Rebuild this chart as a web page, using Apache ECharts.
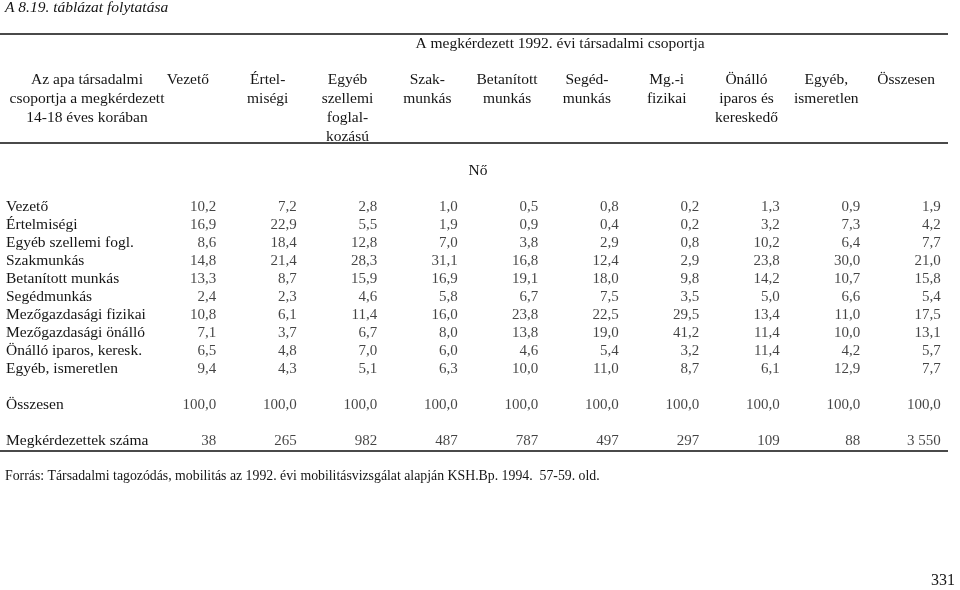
<!DOCTYPE html>
<html>
<head>
<meta charset="utf-8">
<script src="https://cdn.jsdelivr.net/npm/echarts@6/dist/echarts.min.js"></script>
<style>
  html, body { margin: 0; padding: 0; background: #fff; }
  #chart { width: 960px; height: 590px; }
</style>
</head>
<body>
<div id="chart"></div>
<script>
// column headers (the respondent's social group in 1992)
const columns = [
  'Vezető', 'Értel-\nmiségi', 'Egyéb\nszellemi\nfoglal-\nkozású', 'Szak-\nmunkás',
  'Betanított\nmunkás', 'Segéd-\nmunkás', 'Mg.-i\nfizikai', 'Önálló\niparos és\nkereskedő',
  'Egyéb,\nismeretlen', 'Összesen'
];

// row labels (father's group), blanks are spacer rows
const rows = [
  'Vezető', 'Értelmiségi', 'Egyéb szellemi fogl.', 'Szakmunkás', 'Betanított munkás',
  'Segédmunkás', 'Mezőgazdasági fizikai', 'Mezőgazdasági önálló', 'Önálló iparos, keresk.',
  'Egyéb, ismeretlen', '', 'Összesen', '', 'Megkérdezettek száma'
];

const rowVezeto      = [10.2,  7.2,  2.8,  1.0,  0.5,  0.8,  0.2,  1.3,  0.9,  1.9];
const rowErtelmiseg  = [16.9, 22.9,  5.5,  1.9,  0.9,  0.4,  0.2,  3.2,  7.3,  4.2];
const rowEgyebSzell  = [ 8.6, 18.4, 12.8,  7.0,  3.8,  2.9,  0.8, 10.2,  6.4,  7.7];
const rowSzakmunkas  = [14.8, 21.4, 28.3, 31.1, 16.8, 12.4,  2.9, 23.8, 30.0, 21.0];
const rowBetanitott  = [13.3,  8.7, 15.9, 16.9, 19.1, 18.0,  9.8, 14.2, 10.7, 15.8];
const rowSegedmunkas = [ 2.4,  2.3,  4.6,  5.8,  6.7,  7.5,  3.5,  5.0,  6.6,  5.4];
const rowMgFizikai   = [10.8,  6.1, 11.4, 16.0, 23.8, 22.5, 29.5, 13.4, 11.0, 17.5];
const rowMgOnallo    = [ 7.1,  3.7,  6.7,  8.0, 13.8, 19.0, 41.2, 11.4, 10.0, 13.1];
const rowIparos      = [ 6.5,  4.8,  7.0,  6.0,  4.6,  5.4,  3.2, 11.4,  4.2,  5.7];
const rowEgyebIsm    = [ 9.4,  4.3,  5.1,  6.3, 10.0, 11.0,  8.7,  6.1, 12.9,  7.7];
const rowOsszesen    = [100.0, 100.0, 100.0, 100.0, 100.0, 100.0, 100.0, 100.0, 100.0, 100.0];
const respondents    = [38, 265, 982, 487, 787, 497, 297, 109, 88, 3550];

const shareRows = [
  [0, rowVezeto], [1, rowErtelmiseg], [2, rowEgyebSzell], [3, rowSzakmunkas],
  [4, rowBetanitott], [5, rowSegedmunkas], [6, rowMgFizikai], [7, rowMgOnallo],
  [8, rowIparos], [9, rowEgyebIsm], [11, rowOsszesen]
];

const shareData = [];
shareRows.forEach(([r, vals]) => {
  vals.forEach((v, c) => shareData.push([c, r, v]));
});
const countData = respondents.map((v, c) => [c, 13, v]);

const FONT = '"Liberation Serif", "Times New Roman", serif';
const INK = '#151515';
const RULE = '#4a4a4a';

const fmtShare = v => v.toFixed(1).replace('.', ',');
const fmtCount = v => String(v).replace(/\B(?=(\d{3})+(?!\d))/g, ' ');

const cellLabel = {
  show: true,
  position: 'inside',
  align: 'right',
  offset: [22, 0],
  color: INK,
  fontFamily: FONT,
  fontSize: 15
};

const chart = echarts.init(document.getElementById('chart'));

const option = {
  backgroundColor: '#fff',
  animation: false,
  textStyle: { fontFamily: FONT, color: INK },
  grid: [
    { left: 154, top: 198, width: 805, height: 252 },
    // header grid, shifted a little so headings sit centred over the columns
    { left: 148, top: 198, width: 798, height: 252 }
  ],
  xAxis: [
    {
      type: 'category',
      data: columns,
      gridIndex: 0,
      show: false
    },
    {
      type: 'category',
      data: columns,
      gridIndex: 1,
      position: 'top',
      axisLine: { show: false },
      axisTick: { show: false },
      splitLine: { show: false },
      axisLabel: {
        interval: 0,
        verticalAlign: 'top',
        margin: 128,
        lineHeight: 19,
        fontFamily: FONT,
        fontSize: 15.5,
        color: INK
      }
    }
  ],
  yAxis: [
    {
      type: 'category',
      data: rows,
      gridIndex: 0,
      inverse: true,
      axisLine: { show: false },
      axisTick: { show: false },
      splitLine: { show: false },
      axisLabel: {
        interval: 0,
        align: 'left',
        margin: 148,
        fontFamily: FONT,
        fontSize: 15.5,
        color: INK
      }
    },
    {
      type: 'value',
      gridIndex: 1,
      show: false
    }
  ],
  series: [
    {
      name: 'Arány',
      type: 'scatter',
      data: shareData,
      symbolSize: 1,
      itemStyle: { color: 'rgba(0,0,0,0)' },
      label: Object.assign({}, cellLabel, {
        formatter: p => fmtShare(p.value[2])
      }),
      silent: true
    },
    {
      name: 'Megkérdezettek',
      type: 'scatter',
      data: countData,
      symbolSize: 1,
      itemStyle: { color: 'rgba(0,0,0,0)' },
      label: Object.assign({}, cellLabel, {
        formatter: p => fmtCount(p.value[2])
      }),
      silent: true
    }
  ],
  graphic: [
    {
      type: 'text', x: 5, y: 8,
      style: {
        text: 'A 8.19. táblázat folytatása', font: 'italic 15.5px ' + FONT,
        fill: INK, verticalAlign: 'middle'
      }
    },
    {
      type: 'line', shape: { x1: 0, y1: 34, x2: 948, y2: 34 },
      style: { stroke: RULE, lineWidth: 2 }
    },
    {
      type: 'text', x: 560, y: 44,
      style: {
        text: 'A megkérdezett 1992. évi társadalmi csoportja',
        font: '15.5px ' + FONT, fill: INK, align: 'center', verticalAlign: 'middle'
      }
    },
    {
      type: 'text', x: 87, y: 70,
      style: {
        text: 'Az apa társadalmi\ncsoportja a megkérdezett\n14-18 éves korában',
        font: '15.5px ' + FONT, fill: INK, align: 'center', lineHeight: 19
      }
    },
    {
      type: 'line', shape: { x1: 0, y1: 143, x2: 948, y2: 143 },
      style: { stroke: RULE, lineWidth: 2 }
    },
    {
      type: 'text', x: 478, y: 171,
      style: { text: 'Nő', font: '15.5px ' + FONT, fill: INK, align: 'center', verticalAlign: 'middle' }
    },
    {
      type: 'line', shape: { x1: 0, y1: 451, x2: 948, y2: 451 },
      style: { stroke: RULE, lineWidth: 2 }
    },
    {
      type: 'text', x: 5, y: 476,
      style: {
        text: 'Forrás: Társadalmi tagozódás, mobilitás az 1992. évi mobilitásvizsgálat alapján KSH.Bp. 1994.  57-59. old.',
        font: '13.8px ' + FONT, fill: INK, verticalAlign: 'middle'
      }
    },
    {
      type: 'text', x: 955, y: 581,
      style: { text: '331', font: '16px ' + FONT, fill: INK, align: 'right', verticalAlign: 'middle' }
    }
  ]
};

chart.setOption(option);
window.addEventListener('resize', () => chart.resize());
</script>
</body>
</html>
